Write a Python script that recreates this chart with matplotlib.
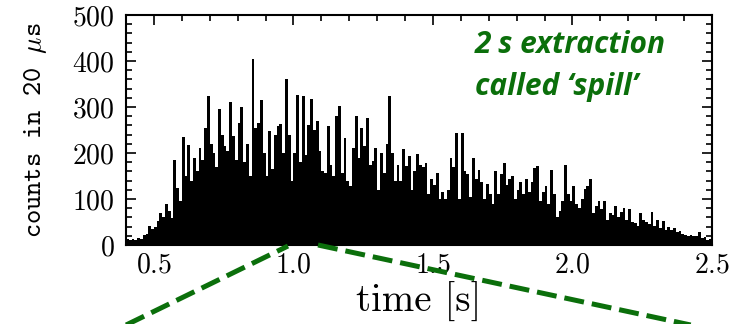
import numpy as np
import matplotlib
matplotlib.use("Agg")
import matplotlib.pyplot as plt
from matplotlib.lines import Line2D
from matplotlib.ticker import MultipleLocator

# Counts per 20 us, one value per 0.01 s bin from 0.40 s
bin_start = 0.40
bin_width = 0.01
counts = [
    13, 10, 14, 10, 15, 12, 22, 25, 42, 35,
    40, 52, 70, 60, 90, 75, 58, 185, 125, 95,
    235, 150, 218, 140, 190, 160, 210, 185, 255, 325,
    220, 200, 170, 295, 240, 215, 205, 310, 237, 185,
    265, 300, 180, 220, 150, 404, 255, 265, 316, 200,
    150, 247, 165, 240, 258, 262, 200, 361, 240, 140,
    200, 327, 180, 323, 195, 260, 318, 251, 269, 204,
    161, 157, 258, 175, 150, 280, 302, 157, 233, 140,
    128, 211, 280, 190, 255, 215, 276, 175, 182, 211,
    120, 200, 157, 219, 323, 200, 140, 175, 139, 208,
    172, 193, 120, 161, 197, 175, 170, 179, 110, 143,
    130, 157, 100, 115, 100, 120, 190, 170, 244, 100,
    244, 161, 154, 105, 190, 143, 164, 136, 100, 132,
    110, 90, 161, 110, 154, 179, 130, 143, 150, 100,
    120, 136, 110, 143, 115, 136, 168, 172, 95, 115,
    128, 90, 164, 110, 60, 75, 95, 175, 110, 95,
    128, 90, 80, 100, 121, 128, 143, 70, 85, 95,
    78, 96, 55, 70, 65, 85, 60, 72, 80, 55,
    78, 50, 48, 42, 70, 55, 50, 45, 72, 42,
    55, 38, 52, 32, 40, 32, 38, 28, 30, 25,
    22, 20, 22, 20, 20, 28, 15, 18, 10, 12,
]
note_lines = ["2 s extraction", "called \u2018spill\u2019"]

green = "#0b6f0b"

plt.rcParams["mathtext.fontset"] = "cm"
plt.rcParams["font.family"] = "cmr10"
plt.rcParams["axes.formatter.use_mathtext"] = True

fig = plt.figure(figsize=(7.36, 3.24), dpi=100)
ax = fig.add_axes([126 / 736, 1 - 245 / 324, 586 / 736, 230 / 324])

t = bin_start + bin_width * np.arange(len(counts))
ax.bar(t, counts, width=bin_width, align="edge", color="black", linewidth=0)

ax.set_xlim(0.4, 2.5)
ax.set_ylim(0, 500)
ax.xaxis.set_major_locator(MultipleLocator(0.5))
ax.xaxis.set_minor_locator(MultipleLocator(0.1))
ax.yaxis.set_major_locator(MultipleLocator(100))
ax.yaxis.set_minor_locator(MultipleLocator(20))
ax.tick_params(which="both", direction="in", top=True, right=True, width=1.2)
ax.tick_params(which="major", length=7)
ax.tick_params(which="minor", length=4)
ax.tick_params(axis="y", labelsize=20, pad=8)
ax.tick_params(axis="x", labelsize=20, pad=5)
for s in ax.spines.values():
    s.set_linewidth(1.5)

ax.set_xlabel("time [s]", fontsize=28, va="top")
ax.xaxis.set_label_coords(0.5, -0.16)
ax.set_ylabel("counts in 20 $\\mu$s", fontsize=19.5, family="cmtt10")
ax.yaxis.set_label_coords(-0.132, 0.5)

for i, line in enumerate(note_lines):
    fig.text(475 / 736, 1 - (45 + 42 * i) / 324, line, color=green, fontsize=21.5,
             family="Open Sans", weight="bold", style="italic", va="center", ha="left")

# dashed "zoom" lines below the axis
for xs, ys in [([122, 288], [327, 246]), ([318, 700], [245, 327])]:
    fig.add_artist(Line2D([x / 736 for x in xs], [1 - y / 324 for y in ys],
                          transform=fig.transFigure, color=green, linewidth=3.6,
                          linestyle=(0, (4.0, 1.6)), zorder=10))

fig.savefig("out.png", dpi=100)
